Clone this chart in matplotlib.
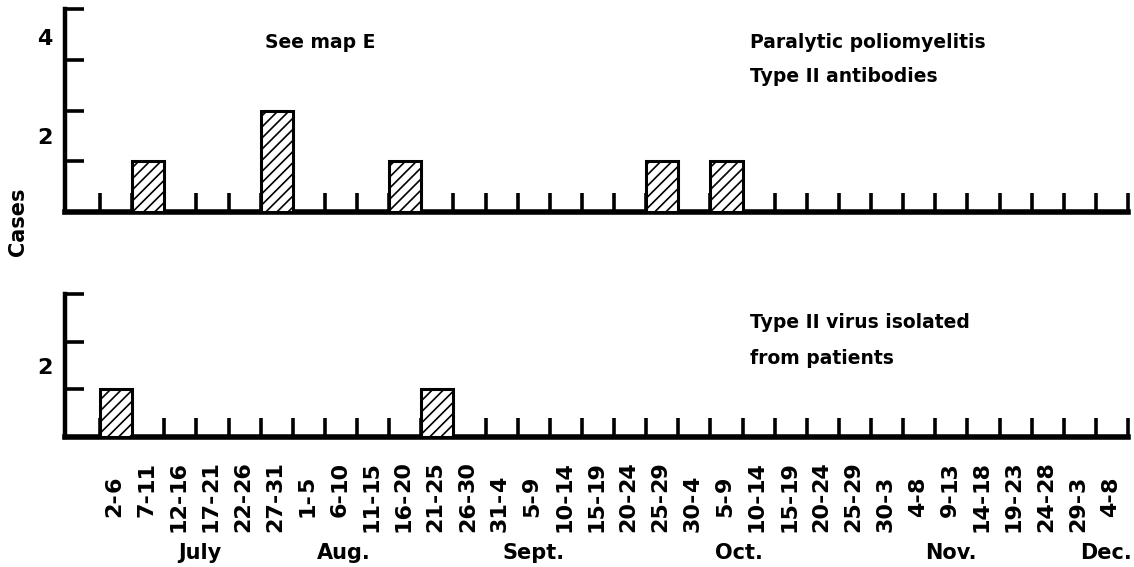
import numpy as np
import matplotlib
matplotlib.use('Agg')
import matplotlib.pyplot as plt
import matplotlib.transforms as mtransforms

plt.rcParams['font.family'] = 'DejaVu Sans'
plt.rcParams['font.weight'] = 'bold'
plt.rcParams['hatch.linewidth'] = 1.2

#DATA (five-day periods, July - Dec.)
periods = ['2-6', '7-11', '12-16', '17-21', '22-26', '27-31',
           '1-5', '6-10', '11-15', '16-20', '21-25', '26-30',
           '31-4', '5-9', '10-14', '15-19', '20-24', '25-29',
           '30-4', '5-9', '10-14', '15-19', '20-24', '25-29',
           '30-3', '4-8', '9-13', '14-18', '19-23', '24-28',
           '29-3', '4-8']
months = ['July', 'Aug.', 'Sept.', 'Oct.', 'Nov.', 'Dec.']

antibody_cases = [0, 1, 0, 0, 0, 2, 0, 0, 0, 1, 0, 0,
                  0, 0, 0, 0, 0, 1, 0, 1, 0, 0, 0, 0,
                  0, 0, 0, 0, 0, 0, 0, 0]
virus_cases = [1, 0, 0, 0, 0, 0, 0, 0, 0, 0, 1, 0,
               0, 0, 0, 0, 0, 0, 0, 0, 0, 0, 0, 0,
               0, 0, 0, 0, 0, 0, 0, 0]

W, H = 1134, 567
fig = plt.figure(figsize=(W/100, H/100), dpi=100)

#AXES (pixel layout of the original)
ax1 = fig.add_axes([65/W, 1 - 212/H, 1063/W, 203/H])
ax2 = fig.add_axes([65/W, 1 - 437/H, 1063/W, 143/H])


def panel(ax, cases, ymax, ylabel_pos):
    n = len(cases)
    x = np.arange(n)
    cases = np.asarray(cases)
    m = cases > 0
    ax.bar(x[m], cases[m], width=1, align='edge', facecolor='white',
           edgecolor='black', hatch='///', linewidth=2.2, zorder=3)

    ax.set_xlim(-1.09, n)
    ax.set_ylim(0, ymax)
    ax.set_axisbelow(True)

    ax.set_xticks(np.arange(n + 1))
    ax.set_xticklabels([])
    ax.set_yticks(np.arange(1, ymax + 1))
    ax.set_yticklabels([])
    ax.tick_params(axis='both', direction='in', length=14, width=2.6,
                   color='black')

    for s in ['top', 'right']:
        ax.spines[s].set_visible(False)
    ax.spines['left'].set_linewidth(3.2)
    ax.spines['bottom'].set_linewidth(4)
    ax.patch.set_alpha(0)

    # sparse value labels drawn between the ticks, as in the original
    tr = mtransforms.blended_transform_factory(ax.transAxes, ax.transData)
    for txt, y in ylabel_pos:
        ax.text(-20/1063, y, txt, transform=tr, ha='center', va='center',
                fontsize=16, fontweight='bold')


panel(ax1, antibody_cases, 4, [('2', 1.45), ('4', 3.4)])
panel(ax2, virus_cases, 3, [('2', 1.45)])

#X LABELS (aligned on the dash)
tr = mtransforms.blended_transform_factory(ax2.transData, fig.transFigure)
dash_y = 1 - 492/H
for i, p in enumerate(periods):
    a, b = p.split('-')
    xc = i + 0.45
    ax2.text(xc, dash_y, a + '-', transform=tr, rotation=90, ha='center',
             va='top', fontsize=16, fontweight='bold')
    ax2.text(xc, dash_y, b, transform=tr, rotation=90, ha='center',
             va='bottom', fontsize=16, fontweight='bold')

month_x = [3.1, 7.6, 13.5, 19.9, 26.5, 31.3]
for mname, mx in zip(months, month_x):
    ax2.text(mx, 1 - 553/H, mname, transform=tr, ha='center', va='center',
             fontsize=15, fontweight='bold')

#TEXT
fig.text(265/W, 1 - 42/H, 'See map E', va='center', fontsize=13.5)
fig.text(750/W, 1 - 42/H, 'Paralytic poliomyelitis', va='center', fontsize=13.5)
fig.text(750/W, 1 - 77/H, 'Type II antibodies', va='center', fontsize=13.5)
fig.text(750/W, 1 - 323/H, 'Type II virus isolated', va='center', fontsize=13.5)
fig.text(750/W, 1 - 358/H, 'from patients', va='center', fontsize=13.5)
fig.text(18/W, 1 - 222/H, 'Cases', rotation=90, ha='center', va='center',
         fontsize=15)

fig.savefig('out.png', dpi=100)
